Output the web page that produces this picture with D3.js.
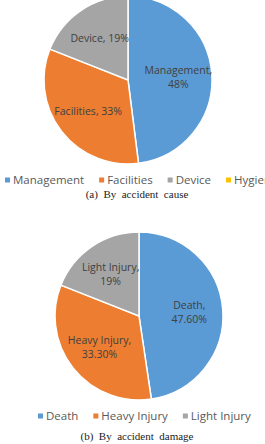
<!DOCTYPE html>
<html>
<head>
<meta charset="utf-8">
<script src="https://cdn.jsdelivr.net/npm/d3@7"></script>
<style>
  body { margin: 0; background: #fff; }
  svg { display: block; }
  .slice-label { font-family: "Open Sans", sans-serif; font-size: 10.5px; fill: #404040; }
  .legend text { font-family: "Open Sans", sans-serif; font-size: 11.5px; fill: #595959; }
  .caption { font-family: "Liberation Serif", "DejaVu Serif", serif; font-size: 11px; fill: #222; white-space: pre; }
</style>
</head>
<body>
<div id="chart"></div>
<script>
/* data */
const cause_names = ["Management", "Facilities", "Device", "Hygiene"];
const cause_values = [48, 33, 19, 0];
const cause_labels = [["Management,", "48%"], ["Facilities, 33%"], ["Device, 19%"], []];

const damage_names = ["Death", "Heavy Injury", "Light Injury"];
const damage_values = [47.6, 33.3, 19];
const damage_labels = [["Death,", "47.60%"], ["Heavy Injury,", "33.30%"], ["Light Injury,", "19%"]];

const colors = ["#5B9BD5", "#ED7D31", "#A5A5A5", "#FFC000"];

/* display parameters */
const width = 265,
  height = 444,
  radius = 84,
  label_factor = 0.6,
  line_height = 14;

let svg = d3
  .select("#chart")
  .append("svg")
  .attr("width", width)
  .attr("height", height);

svg.append("rect").attr("width", width).attr("height", height).attr("fill", "#fff");

function draw_pie(opts) {
  let g = svg.append("g");

  let color = d3.scaleOrdinal().domain(opts.names).range(colors);

  let pie = d3
    .pie()
    .sort(null)
    .value(d => d.value);

  let arc = d3.arc().innerRadius(0).outerRadius(radius);
  let label_arc = d3
    .arc()
    .innerRadius(radius * label_factor)
    .outerRadius(radius * label_factor);

  let rows = opts.names.map((n, i) => ({ name: n, value: opts.values[i], label: opts.labels[i] }));
  let arcs = pie(rows);

  let pie_g = g.append("g").attr("transform", `translate(${opts.cx},${opts.cy})`);

  pie_g
    .selectAll("path")
    .data(arcs.filter(d => d.data.value > 0))
    .join("path")
    .attr("d", arc)
    .attr("fill", d => color(d.data.name))
    .attr("stroke", "#fff")
    .attr("stroke-width", 1.5);

  let labels = pie_g
    .selectAll("text")
    .data(arcs.filter(d => d.data.label.length))
    .join("text")
    .attr("class", "slice-label")
    .attr("text-anchor", "middle")
    .attr("transform", d => {
      let [x, y] = label_arc.centroid(d);
      return `translate(${x},${y})`;
    });

  labels
    .selectAll("tspan")
    .data(d => d.data.label.map((t, i, a) => ({ t, i, n: a.length })))
    .join("tspan")
    .attr("x", 0)
    .attr("y", d => (d.i - (d.n - 1) / 2) * line_height)
    .attr("dy", "0.35em")
    .text(d => d.t);

  // legend, laid out left to right by measured widths
  let legend = g.append("g").attr("class", "legend").attr("transform", `translate(${opts.legend_x},${opts.legend_y})`);
  let x = 0;
  opts.names.forEach((n, i) => {
    let item = legend.append("g").attr("transform", `translate(${x},0)`);
    item
      .append("rect")
      .attr("x", 0)
      .attr("y", -2.5)
      .attr("width", 5)
      .attr("height", 5)
      .attr("fill", color(n));
    let t = item
      .append("text")
      .attr("x", 8)
      .attr("dy", "0.35em")
      .text(n);
    x += 8 + t.node().getComputedTextLength() + opts.legend_gap;
  });

  g.append("text")
    .attr("class", "caption")
    .attr("x", opts.caption_x)
    .attr("y", opts.caption_y)
    .attr("text-anchor", "middle")
    .attr("dy", "0.35em")
    .text(opts.caption);
}

draw_pie({
  names: cause_names,
  values: cause_values,
  labels: cause_labels,
  cx: 128,
  cy: 80,
  legend_x: 5,
  legend_y: 180,
  legend_gap: 15,
  caption: "(a)  By  accident  cause",
  caption_x: 137,
  caption_y: 194
});

draw_pie({
  names: damage_names,
  values: damage_values,
  labels: damage_labels,
  cx: 139,
  cy: 316,
  legend_x: 38,
  legend_y: 416,
  legend_gap: 15,
  caption: "(b)  By  accident  damage",
  caption_x: 137,
  caption_y: 436
});
</script>
</body>
</html>
